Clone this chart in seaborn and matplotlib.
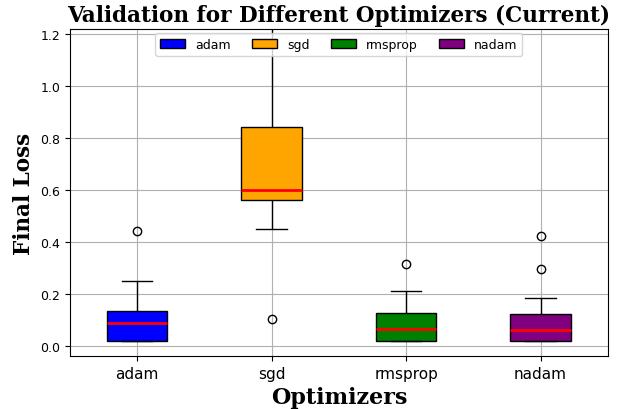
import matplotlib
matplotlib.use("Agg")
import matplotlib.pyplot as plt
from matplotlib.patches import Patch
import seaborn as sns
import pandas as pd

optimizers = ["adam", "sgd", "rmsprop", "nadam"]
colors = ["blue", "orange", "green", "purple"]

adam_loss = [0.017, 0.017, 0.017, 0.05, 0.088, 0.11, 0.132, 0.25, 0.44]
sgd_loss = [0.104, 0.45, 0.56, 0.58, 0.60, 0.72, 0.841, 1.0, 1.25]
rmsprop_loss = [0.017, 0.017, 0.017, 0.04, 0.065, 0.10, 0.127, 0.21, 0.315]
nadam_loss = [0.017, 0.017, 0.017, 0.017, 0.03, 0.045, 0.059, 0.08, 0.10,
              0.123, 0.183, 0.295, 0.424]

series = [adam_loss, sgd_loss, rmsprop_loss, nadam_loss]
rows = []
for name, vals in zip(optimizers, series):
    for v in vals:
        rows.append({"Optimizer": name, "Final Loss": v})
df = pd.DataFrame(rows)

fig, ax = plt.subplots(figsize=(6.24, 4.10), dpi=100)
sns.boxplot(data=df, x="Optimizer", y="Final Loss", hue="Optimizer",
            order=optimizers, hue_order=optimizers,
            palette=dict(zip(optimizers, colors)), width=0.45, dodge=False,
            saturation=1, legend=False, ax=ax,
            boxprops=dict(edgecolor="black", linewidth=1),
            whiskerprops=dict(color="black", linewidth=1),
            capprops=dict(color="black", linewidth=1),
            medianprops=dict(color="red", linewidth=2),
            flierprops=dict(marker="o", markerfacecolor="none",
                            markeredgecolor="black", markersize=6))

ax.set_ylim(-0.04, 1.22)
ax.grid(True, color="#b0b0b0", linewidth=0.8)
ax.set_axisbelow(True)
ax.set_title("Validation for Different Optimizers (Current)", fontsize=15.5,
             fontweight="bold", family="DejaVu Serif")
ax.set_xlabel("Optimizers", fontsize=16, fontweight="bold", family="DejaVu Serif")
ax.set_ylabel("Final Loss", fontsize=15.5, fontweight="bold", family="DejaVu Serif")
ax.tick_params(axis="x", labelsize=11)
ax.tick_params(axis="y", labelsize=9)

handles = [Patch(facecolor=c, edgecolor="black", label=n) for n, c in zip(optimizers, colors)]
ax.legend(handles=handles, loc="upper center", ncol=4, fontsize=9,
          bbox_to_anchor=(0.5, 1.0), borderaxespad=0.3, columnspacing=1.7)

fig.subplots_adjust(left=0.112, right=0.974, top=0.927, bottom=0.129)
fig.savefig("out.png", dpi=100)
